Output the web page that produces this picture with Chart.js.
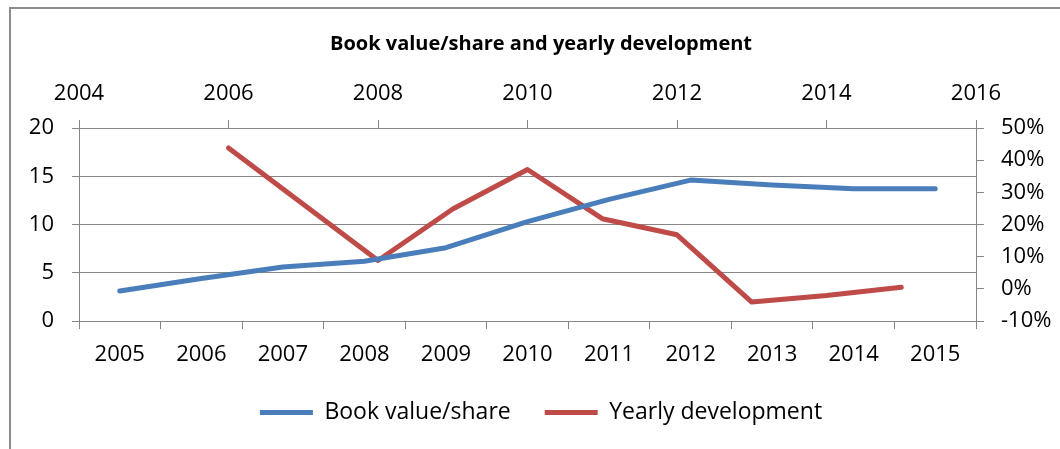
<!DOCTYPE html>
<html>
<head>
<meta charset="utf-8">
<script src="https://cdn.jsdelivr.net/npm/chart.js@4.4.1/dist/chart.umd.min.js"></script>
<style>
  html, body { margin: 0; padding: 0; background: #fff; }
  canvas { display: block; }
</style>
</head>
<body>
<canvas id="myChart" width="1060" height="449"></canvas>
<script>
// categories for the bottom axis (blue series)
const categories = ['2005', '2006', '2007', '2008', '2009', '2010', '2011', '2012', '2013', '2014', '2015'];
const bookValue = [3.1, 4.4, 5.6, 6.2, 7.6, 10.3, 12.6, 14.6, 14.1, 13.7, 13.7];

// red series sits on the top (numeric) axis
const devYears = [2006, 2007, 2008, 2009, 2010, 2011, 2012, 2013, 2014, 2015];
const devValues = [43.8, 26.3, 8.8, 24.8, 37.1, 21.8, 16.8, -4.1, -2.1, 0.5];

const gridGray = '#868686';
const fontName = "'Open Sans', 'Noto Sans', sans-serif";

// grey frame of the original chart object
const framePlugin = {
    id: 'frame',
    afterDraw(chart) {
        const c = chart.ctx;
        c.save();
        c.strokeStyle = '#8c8c8c';
        c.lineWidth = 2;
        c.beginPath();
        c.moveTo(10, 449);
        c.lineTo(10, 8);
        c.lineTo(1060, 8);
        c.stroke();
        c.restore();
    }
};

function initializeChart() {
    var ctx = document.getElementById('myChart').getContext('2d');

    var devPoints = devYears.map(function (yr, i) { return {x: yr, y: devValues[i]}; });

    var mychart = new Chart(ctx, {
        type: 'line',
        data: {
            labels: categories,
            datasets: [{
                label: 'Book value/share',
                data: bookValue,
                xAxisID: 'x',
                yAxisID: 'y',
                borderColor: '#4A7EBB',
                backgroundColor: '#4A7EBB',
                borderWidth: 5,
                pointRadius: 0,
                tension: 0,
                borderCapStyle: 'round',
                borderJoinStyle: 'round'
            }, {
                label: 'Yearly development',
                data: devPoints,
                xAxisID: 'x2',
                yAxisID: 'y2',
                borderColor: '#BE4B48',
                backgroundColor: '#BE4B48',
                borderWidth: 5,
                pointRadius: 0,
                tension: 0,
                borderCapStyle: 'round',
                borderJoinStyle: 'round'
            }]
        },
        options: {
            responsive: false,
            animation: false,
            devicePixelRatio: 1,
            layout: {
                padding: {left: 22, right: 0, top: 0, bottom: 15}
            },
            plugins: {
                title: {
                    display: true,
                    text: 'Book value/share and yearly development',
                    color: '#000',
                    font: {family: fontName, size: 20, weight: 'bold'},
                    padding: {top: 32, bottom: 0}
                },
                legend: {
                    position: 'bottom',
                    labels: {
                        color: '#000',
                        font: {family: fontName, size: 23},
                        usePointStyle: true,
                        pointStyle: 'line',
                        pointStyleWidth: 53,
                        boxHeight: 5,
                        padding: 34
                    }
                },
                tooltip: {enabled: false}
            },
            scales: {
                x: {
                    type: 'category',
                    position: 'bottom',
                    offset: true,
                    grid: {
                        offset: true,
                        drawOnChartArea: false,
                        color: gridGray,
                        tickLength: 8
                    },
                    border: {color: gridGray},
                    ticks: {
                        color: '#000',
                        font: {family: fontName, size: 22, lineHeight: 1},
                        padding: 15,
                        maxRotation: 0
                    },
                    afterFit: function (s) { s.height = 46; }
                },
                x2: {
                    type: 'linear',
                    position: 'top',
                    min: 2004,
                    max: 2016,
                    grid: {
                        drawOnChartArea: false,
                        color: gridGray,
                        tickLength: 8
                    },
                    border: {color: gridGray},
                    ticks: {
                        stepSize: 2,
                        color: '#000',
                        font: {family: fontName, size: 22},
                        padding: 13,
                        callback: function (v) { return String(v); }
                    },
                    afterFit: function (s) { s.height = 128 - 56; }
                },
                y: {
                    position: 'left',
                    min: 0,
                    max: 20,
                    grid: {
                        color: gridGray,
                        tickLength: 7
                    },
                    border: {color: gridGray},
                    ticks: {
                        stepSize: 5,
                        color: '#000',
                        font: {family: fontName, size: 22},
                        padding: 18
                    },
                    afterFit: function (s) { s.width = 79 - 22; }
                },
                y2: {
                    position: 'right',
                    min: -10,
                    max: 50,
                    grid: {
                        drawOnChartArea: false,
                        color: gridGray,
                        tickLength: 8
                    },
                    border: {color: gridGray},
                    ticks: {
                        stepSize: 10,
                        color: '#000',
                        font: {family: fontName, size: 22},
                        padding: 17,
                        callback: function (v) { return v + '%'; }
                    },
                    afterFit: function (s) { s.width = 1060 - 976; }
                }
            }
        },
        plugins: [framePlugin]
    });
}

initializeChart();
</script>
</body>
</html>
